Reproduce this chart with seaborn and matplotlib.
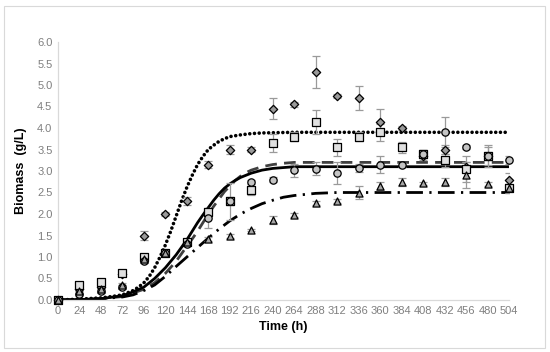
import numpy as np
import pandas as pd
import matplotlib
matplotlib.use("Agg")
import matplotlib.pyplot as plt
import seaborn as sns

# ---- data ----
time_h = [0, 24, 48, 72, 96, 120, 144, 168, 192, 216, 240, 264, 288, 312, 336, 360, 384, 408, 432, 456, 480, 504]

diamond_vals = [0, 0.25, 0.3, 0.6, 1.5, 2.0, 2.3, 3.15, 3.5, 3.5, 4.45, 4.55, 5.3, 4.75, 4.7, 4.15, 4.0, 3.35, 3.5, 3.1, 3.35, 2.8]
diamond_err = [0, 0.05, 0.05, 0.05, 0.1, 0.05, 0.1, 0.08, 0.1, 0.05, 0.25, 0.05, 0.38, 0.05, 0.28, 0.3, 0.05, 0.1, 0.1, 0.1, 0.1, 0.15]

square_vals = [0, 0.35, 0.42, 0.62, 1.0, 1.1, 1.35, 2.05, 2.3, 2.55, 3.65, 3.8, 4.15, 3.55, 3.8, 3.9, 3.55, 3.4, 3.25, 3.05, 3.35, 2.6]
square_err = [0, 0.05, 0.05, 0.05, 0.08, 0.05, 0.05, 0.1, 0.43, 0.1, 0.2, 0.1, 0.28, 0.2, 0.1, 0.2, 0.12, 0.1, 0.15, 0.3, 0.25, 0.1]

circle_vals = [0, 0.15, 0.22, 0.3, 0.9, 1.1, 1.3, 1.9, 2.3, 2.75, 2.8, 3.02, 3.05, 2.95, 3.07, 3.15, 3.14, 3.4, 3.9, 3.56, 3.35, 3.26]
circle_err = [0, 0.05, 0.05, 0.05, 0.05, 0.05, 0.05, 0.22, 0.1, 0.05, 0.05, 0.15, 0.15, 0.25, 0.1, 0.2, 0.05, 0.1, 0.35, 0.05, 0.2, 0.1]

triangle_vals = [0, 0.2, 0.25, 0.35, 0.95, 1.1, 1.35, 1.42, 1.49, 1.63, 1.86, 1.98, 2.25, 2.3, 2.49, 2.65, 2.74, 2.71, 2.74, 2.9, 2.7, 2.6]
triangle_err = [0, 0.03, 0.03, 0.05, 0.05, 0.03, 0.03, 0.05, 0.05, 0.03, 0.1, 0.05, 0.05, 0.05, 0.15, 0.1, 0.1, 0.03, 0.1, 0.3, 0.05, 0.1]

# fitted model curves
fit_dotted_t = [0, 24, 48, 60, 72, 84, 90, 96, 102, 108, 114, 120, 126, 132, 138, 144, 150, 156, 162, 168, 174, 180, 186, 192, 204, 216, 228, 240, 264, 504]
fit_dotted_v = [0, 0.02, 0.05, 0.08, 0.12, 0.22, 0.3, 0.4, 0.55, 0.75, 1.0, 1.28, 1.6, 1.95, 2.3, 2.62, 2.9, 3.15, 3.34, 3.5, 3.6, 3.69, 3.75, 3.8, 3.84, 3.87, 3.885, 3.89, 3.9, 3.9]

fit_solid_t = [0, 24, 48, 72, 84, 96, 108, 120, 132, 144, 150, 156, 162, 168, 174, 180, 186, 192, 198, 204, 216, 228, 240, 252, 264, 504]
fit_solid_v = [0, 0.01, 0.03, 0.1, 0.19, 0.3, 0.5, 0.75, 1.05, 1.4, 1.6, 1.8, 1.98, 2.15, 2.32, 2.47, 2.6, 2.7, 2.78, 2.85, 2.95, 3.02, 3.06, 3.08, 3.1, 3.1]

fit_dashed_t = [0, 24, 48, 72, 96, 108, 120, 132, 144, 150, 156, 162, 168, 174, 180, 186, 192, 198, 204, 210, 216, 228, 240, 252, 264, 504]
fit_dashed_v = [0, 0.01, 0.03, 0.08, 0.25, 0.4, 0.62, 0.9, 1.25, 1.42, 1.6, 1.8, 2.0, 2.18, 2.35, 2.52, 2.65, 2.78, 2.88, 2.96, 3.02, 3.1, 3.15, 3.18, 3.2, 3.2]

fit_dashdot_t = [0, 24, 48, 72, 84, 96, 108, 120, 132, 144, 156, 168, 180, 192, 204, 216, 228, 240, 252, 264, 288, 312, 504]
fit_dashdot_v = [0, 0.01, 0.03, 0.07, 0.12, 0.22, 0.35, 0.55, 0.78, 1.0, 1.22, 1.44, 1.65, 1.84, 2.0, 2.13, 2.24, 2.32, 2.39, 2.43, 2.48, 2.5, 2.5]

x_ticks = list(range(0, 505, 24))
y_ticks = [0.0, 0.5, 1.0, 1.5, 2.0, 2.5, 3.0, 3.5, 4.0, 4.5, 5.0, 5.5, 6.0]

# ---- plot ----
sns.set_theme(style="white")
plt.rcParams['font.family'] = ['Liberation Sans', 'DejaVu Sans']

fig = plt.figure(figsize=(5.5, 3.52), dpi=100)
ax = fig.add_axes([58/550, 1-300/352, 451/550, 258/352])

# frame of chart area
fig.patches.append(matplotlib.patches.Rectangle((4/550, 4/352), 541/550, 342/352, transform=fig.transFigure,
                                                fill=False, edgecolor='#d9d9d9', linewidth=0.8))

curves = [
    (fit_dotted_t, fit_dotted_v, dict(color='black', linewidth=2.6, linestyle=(0, (0.01, 1.3)), dash_capstyle='round')),
    (fit_dashed_t, fit_dashed_v, dict(color='#404040', linewidth=2.0, linestyle=(0, (4.2, 2.6)))),
    (fit_solid_t, fit_solid_v, dict(color='black', linewidth=2.0, linestyle='-')),
    (fit_dashdot_t, fit_dashdot_v, dict(color='black', linewidth=2.0, linestyle=(0, (6, 2.3, 0.8, 2.3)))),
]
for t, v, kw in curves:
    sns.lineplot(x=t, y=v, ax=ax, **kw)

series = [
    (diamond_vals, diamond_err, 'D', '#9a9a9a', 18),
    (square_vals, square_err, 's', '#e0e0e0', 26),
    (circle_vals, circle_err, 'o', '#c4c4c4', 28),
    (triangle_vals, triangle_err, '^', '#a6a6a6', 26),
]
for vals, err, mk, fc, sz in series:
    ax.errorbar(time_h, vals, yerr=err, fmt='none', ecolor='#9a9a9a', elinewidth=0.9, capsize=3, capthick=0.9, zorder=3)
for vals, err, mk, fc, sz in series:
    df = pd.DataFrame({'t': time_h, 'v': vals})
    sns.scatterplot(data=df, x='t', y='v', ax=ax, marker=mk, s=sz, color=fc, edgecolor='black', linewidth=0.9,
                    zorder=4, clip_on=False)

ax.set_xlim(0, 504)
ax.set_ylim(0, 6)
ax.set_xticks(x_ticks)
ax.set_yticks(y_ticks)
ax.set_yticklabels([f"{v:.1f}" for v in y_ticks])
ax.tick_params(axis='both', labelsize=8, colors='#7f7f7f', length=0, pad=4)
for s in ['top', 'right']:
    ax.spines[s].set_visible(False)
for s in ['left', 'bottom']:
    ax.spines[s].set_color('#d9d9d9')
    ax.spines[s].set_linewidth(0.9)
ax.set_xlabel('Time (h)', fontsize=9, fontweight='bold', color='black', labelpad=4)
ax.set_ylabel('Biomass  (g/L)', fontsize=9, fontweight='bold', color='black', labelpad=7)
ax.grid(False)

fig.savefig('out.png', dpi=100)
